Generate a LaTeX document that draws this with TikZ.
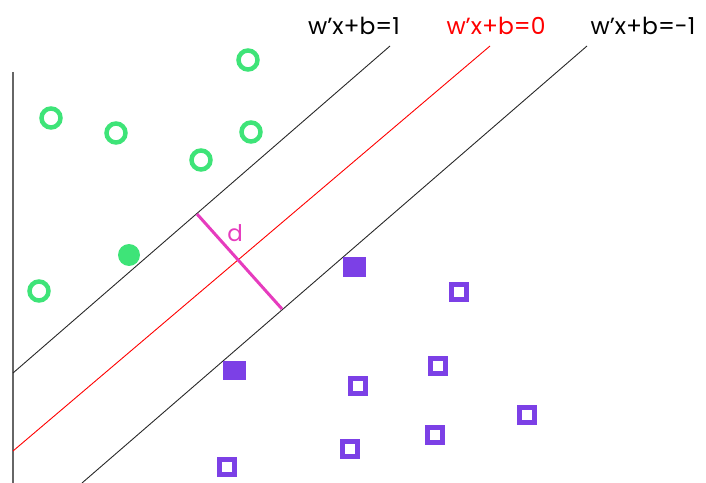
\documentclass[tikz,border=0pt]{standalone}
\usepackage{fontspec}
\setmainfont{Poppins}
\definecolor{ptgreen}{RGB}{62,228,120}
\definecolor{ptpurple}{RGB}{124,64,230}
\definecolor{dmag}{RGB}{230,60,190}
\definecolor{lgray}{RGB}{40,40,40}
\tikzset{
  openc/.style={circle,draw=ptgreen,line width=4.5bp,minimum size=19bp,inner sep=0pt},
  fullc/.style={circle,fill=ptgreen,minimum size=22bp,inner sep=0pt},
  opens/.style={rectangle,draw=ptpurple,line width=4.5bp,minimum size=15bp,inner sep=0pt},
  fulls/.style={rectangle,fill=ptpurple,minimum width=23bp,minimum height=19bp,inner sep=0pt},
  bline/.style={draw=lgray,line width=0.9bp},
  lab/.style={font=\fontsize{23.5}{23.5}\selectfont,inner sep=0pt}
}
\newcommand{\q}{\symbol{39}}
\begin{document}
\begin{tikzpicture}[x=1bp,y=-1bp]
\useasboundingbox (0,0) rectangle (706,483);
% axis
\coordinate (ax1) at (13,72);
\coordinate (ax2) at (13,483);
\draw[gray!80!black,line width=1.8bp] (ax1) -- (ax2);
% lines
\coordinate (t1) at (13,373); \coordinate (t2) at (390,46);
\coordinate (r1) at (13,451); \coordinate (r2) at (490,46);
\coordinate (b1) at (82,483); \coordinate (b2) at (587,46);
\draw[bline] (t1) -- (t2);
\draw[red,line width=0.9bp] (r1) -- (r2);
\draw[bline] (b1) -- (b2);
% margin
\coordinate (d1) at (197,214); \coordinate (d2) at (282,309);
\draw[dmag,line width=3bp] (d1) -- (d2);
\node[text=dmag,inner sep=0pt,font=\fontsize{23}{23}\selectfont] (dl) at (235,233) {d};
% labels
\node[lab] (l1) at (354,26) {w\q x+b=1};
\node[lab,text=red] (l0) at (496,26) {w\q x+b=0};
\node[lab] (lm) at (643,26) {w\q x+b=-1};
% green
\node[openc] (g1) at (248,60) {};
\node[openc] (g2) at (51,118) {};
\node[openc] (g3) at (116,133) {};
\node[openc] (g4) at (201,160) {};
\node[openc] (g5) at (251,132) {};
\node[openc] (g6) at (39,291) {};
\node[fullc] (g7) at (129,255) {};
% purple
\node[fulls] (p1) at (354,267) {};
\node[fulls] (p2) at (234,370) {};
\node[opens] (p3) at (459,292) {};
\node[opens] (p4) at (358,386) {};
\node[opens] (p5) at (438,366) {};
\node[opens] (p6) at (527,415) {};
\node[opens] (p7) at (435,435) {};
\node[opens] (p8) at (350,449) {};
\node[opens] (p9) at (227,467) {};
\end{tikzpicture}
\end{document}
